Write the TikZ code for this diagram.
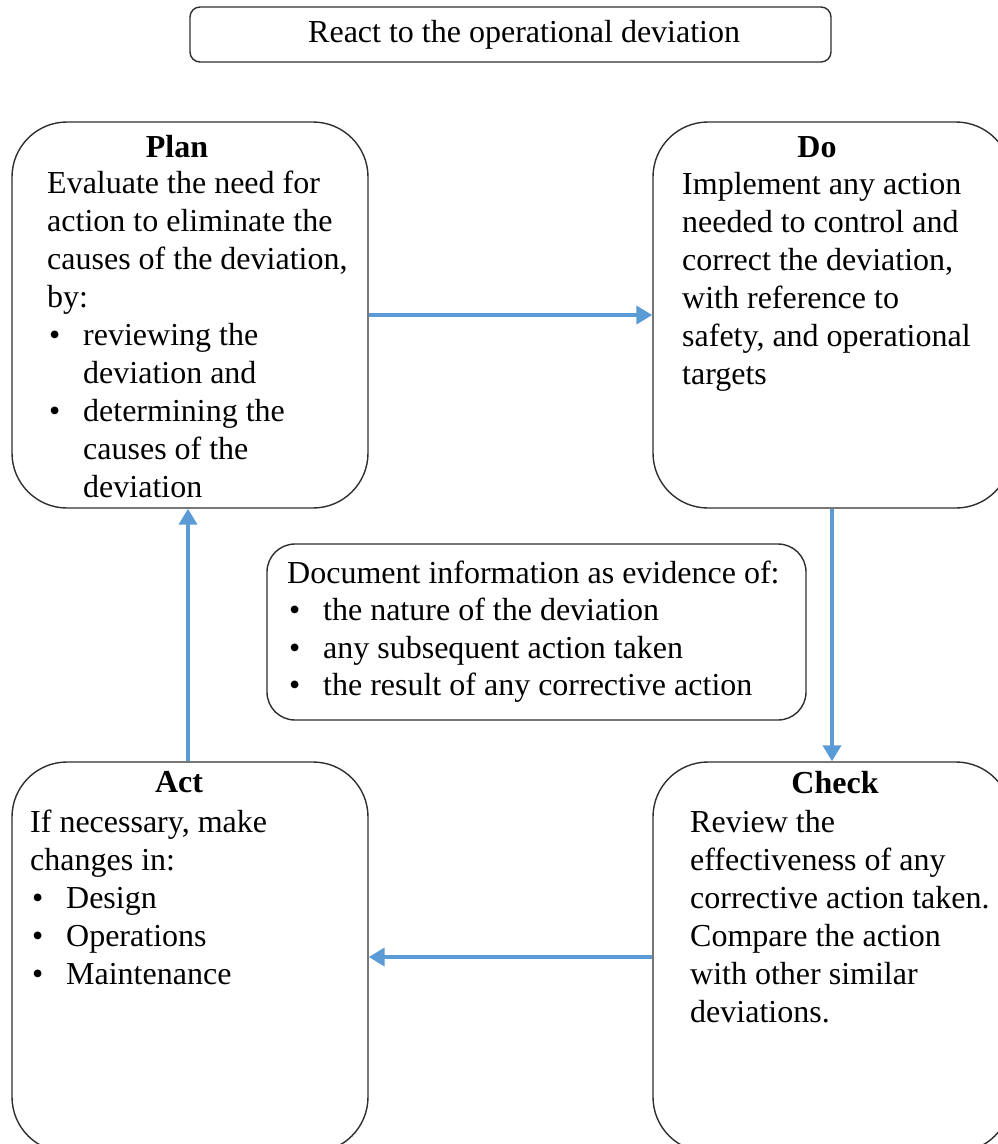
\documentclass[tikz,border=0pt]{standalone}
\usepackage{fontspec}
\setmainfont{Liberation Serif}
\usetikzlibrary{arrows.meta}
\definecolor{flow}{HTML}{5B9BD5}
\definecolor{edge}{HTML}{2E2E2E}
% a left-aligned block of lines whose baseline is the first line
\newcommand\lineblock[1]{\begin{tabular}[t]{@{}l@{}}#1\end{tabular}}
% bulleted entry and its hanging continuation
\newcommand\bul[1]{\makebox[36pt][l]{\hspace{2pt}•}#1}
\newcommand\cont[1]{\hspace*{36pt}#1}
\begin{document}
\begin{tikzpicture}[x=1pt,y=-1pt,
  stage/.style={draw=edge,line width=1.4pt,rounded corners=55pt,inner sep=0pt,
    minimum width=356pt,minimum height=386pt},
  note/.style={draw=edge,line width=1.4pt,inner sep=0pt},
  txt/.style={anchor=base west,inner sep=0pt,font=\fontsize{32}{38}\selectfont},
  notetxt/.style={anchor=base west,inner sep=0pt,font=\fontsize{32}{37.5}\selectfont},
  head/.style={anchor=base,inner sep=0pt,font=\fontsize{32}{38}\selectfont\bfseries},
  flowarrow/.style={draw=flow,line width=4.5pt,-{Triangle[length=16pt,width=18pt]}}]
\useasboundingbox (0,0) rectangle (998,1144);
\clip (0,0) rectangle (998,1144);

% title
\node[note,rounded corners=10pt,minimum width=641pt,minimum height=55pt] (title) at (510.5,34.5) {};
\node[txt] (titletext) at (308,42) {React to the operational deviation};

% the four stages
\node[stage] (plan) at (190,315) {};
\node[stage,minimum width=358pt] (do) at (832,315) {};
\node[stage,minimum height=390pt] (act) at (190,957) {};
\node[stage,minimum width=358pt,minimum height=390pt] (check) at (832,957) {};

% documentation box in the middle
\node[note,rounded corners=28pt,minimum width=539pt,minimum height=176pt] (doc) at (536.5,632) {};

% stage texts
\node[head] (planhead) at (177,157) {Plan};
\node[txt] (plantext) at (47,193) {\lineblock{Evaluate the need for\\ action to eliminate the\\ causes of the deviation,\\ by:\\ \bul{reviewing the}\\ \cont{deviation and}\\ \bul{determining the}\\ \cont{causes of the}\\ \cont{deviation}}};

\node[head] (dohead) at (817,157) {Do};
\node[txt] (dotext) at (682,194) {\lineblock{Implement any action\\ needed to control and\\ correct the deviation,\\ with reference to\\ safety, and operational\\ targets}};

\node[head] (acthead) at (179,792) {Act};
\node[txt] (acttext) at (30,832) {\lineblock{If necessary, make\\ changes in:\\ \bul{Design}\\ \bul{Operations}\\ \bul{Maintenance}}};

\node[head] (checkhead) at (835,793) {Check};
\node[txt] (checktext) at (690,832) {\lineblock{Review the\\ effectiveness of any\\ corrective action taken.\\ Compare the action\\ with other similar\\ deviations.}};

\node[notetxt] (doctext) at (287,583) {\lineblock{Document information as evidence of:\\ \bul{the nature of the deviation}\\ \bul{any subsequent action taken}\\ \bul{the result of any corrective action}}};

% the cycle
\draw[flowarrow] (plan.east) -- (do.west);
\draw[flowarrow] (do.south) -- (check.north);
\draw[flowarrow] (check.west) -- (act.east);
\draw[flowarrow] ([xshift=-2pt]act.north) -- ([xshift=-2pt]plan.south);
\end{tikzpicture}
\end{document}
